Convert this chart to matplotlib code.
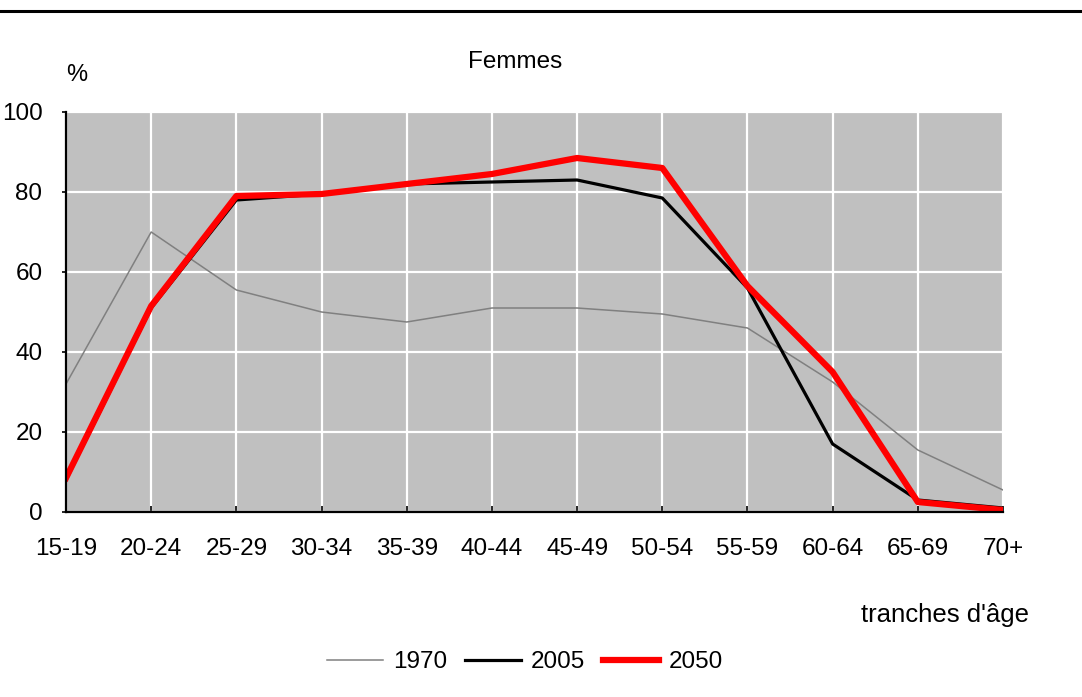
import matplotlib
matplotlib.use("Agg")
import matplotlib.pyplot as plt
from matplotlib.lines import Line2D

plt.rcParams['font.family'] = ['Liberation Sans', 'DejaVu Sans']

categories = ["15-19", "20-24", "25-29", "30-34", "35-39", "40-44",
              "45-49", "50-54", "55-59", "60-64", "65-69", "70+"]
s1970 = [32, 70, 55.5, 50, 47.5, 51, 51, 49.5, 46, 32.5, 15.5, 5.5]
s2005 = [8, 51, 78, 79.5, 82, 82.5, 83, 78.5, 56, 17, 3, 1]
s2050 = [8.5, 51.5, 79, 79.5, 82, 84.5, 88.5, 86, 56.5, 35, 2.5, 0.5]
yticks = [0, 20, 40, 60, 80, 100]

W, H = 1082, 697
fig = plt.figure(figsize=(W / 100, H / 100), dpi=100)
fig.patch.set_facecolor('white')

# top rule
fig.add_artist(Line2D([0, 1], [1 - 11 / H, 1 - 11 / H], color='black', lw=2.2,
                      transform=fig.transFigure))

left, right, bottom, top = 66, 1003, 512, 112
ax = fig.add_axes([left / W, 1 - bottom / H, (right - left) / W, (bottom - top) / H])
ax.set_facecolor('#c0c0c0')

x = list(range(len(categories)))
ax.plot(x, s1970, color='#808080', lw=1.1, label='1970', zorder=3)
ax.plot(x, s2005, color='black', lw=2.3, label='2005', zorder=4)
ax.plot(x, s2050, color='#ff0000', lw=4.5, label='2050', zorder=5)

ax.set_xlim(0, len(categories) - 1)
ax.set_ylim(0, 100)
ax.set_xticks(x)
ax.set_xticklabels(categories)
ax.set_yticks(yticks)
ax.grid(True, color='white', lw=1.6, zorder=1)
ax.set_axisbelow(True)

for s in ['top', 'right']:
    ax.spines[s].set_visible(False)
for s in ['left', 'bottom']:
    ax.spines[s].set_color('black')
    ax.spines[s].set_linewidth(1.6)
    ax.spines[s].set_zorder(6)

ax.tick_params(axis='x', direction='in', length=4, width=1.2, labelsize=17.5, pad=19)
ax.tick_params(axis='y', direction='out', length=3, width=1.2, labelsize=17.5, pad=14)

fig.text(515 / W, 1 - 62 / H, "Femmes", ha='center', va='center', fontsize=17.5)
fig.text(77 / W, 1 - 75 / H, "%", ha='center', va='center', fontsize=17)
fig.text(945 / W, 1 - 615 / H, "tranches d'âge", ha='center', va='center', fontsize=18.5)

fig.legend(loc='center', bbox_to_anchor=(525 / W, 1 - 662 / H), ncol=3, frameon=False,
           fontsize=17.5, handlelength=2.3, handletextpad=0.4, columnspacing=0.75,
           borderpad=0, borderaxespad=0)

fig.savefig("out.png", dpi=100)
